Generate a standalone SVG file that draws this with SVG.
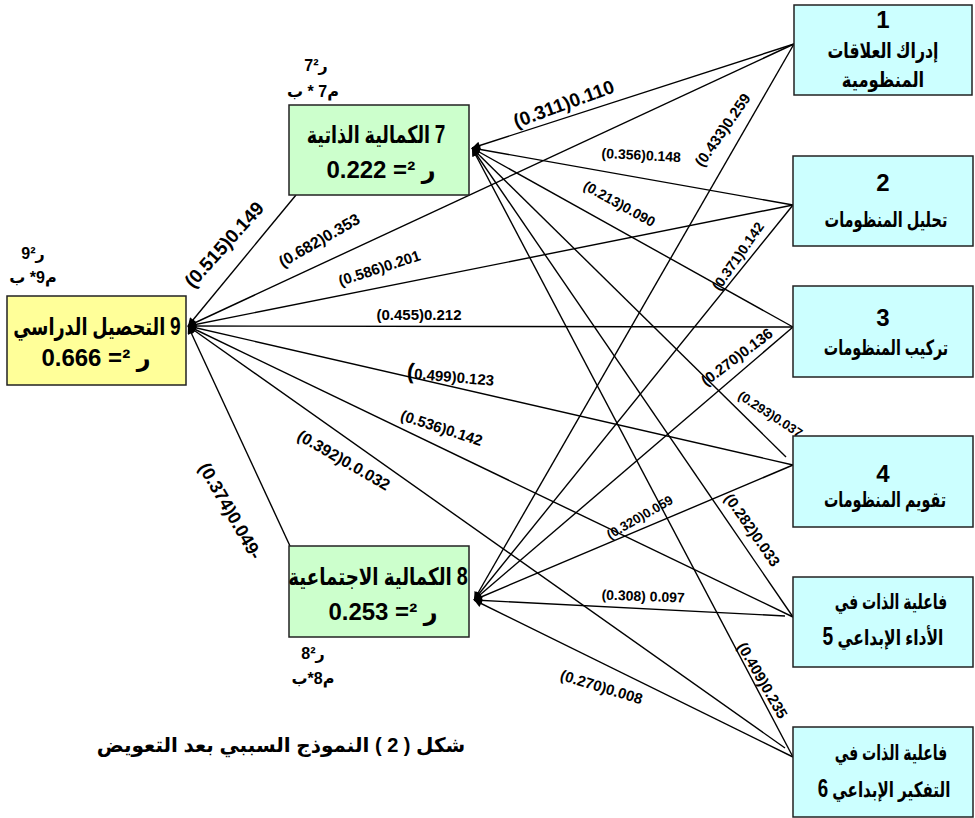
<svg xmlns="http://www.w3.org/2000/svg" width="975" height="818" viewBox="0 0 975 818">
<style>
text{font-family:"Liberation Sans","DejaVu Sans",sans-serif;font-weight:bold;fill:#000}
.ar{direction:rtl;text-anchor:middle}
.box{stroke:#222;stroke-width:1.5}
.g{fill:#ccffcc}.y{fill:#ffff99}.c{fill:#ccffff}
.lbl{text-anchor:middle;font-size:15px}
.big{font-size:24px}
.mid{font-size:21px}
.hd{font-size:24px}
.sm{font-size:16px}
.dg{font-size:26px}
line{stroke:#000;stroke-width:1.4;marker-end:url(#ah)}
</style>
<defs>
<marker id="ah" viewBox="0 0 10 10" refX="10" refY="5" markerWidth="11" markerHeight="8" markerUnits="userSpaceOnUse" orient="auto"><path d="M0,0 L10,5 L0,10 z" fill="#000"/></marker>
</defs>
<rect width="975" height="818" fill="#fff"/>
<g id="connectors">
<line x1="296" y1="195" x2="188" y2="326"/>
<line x1="794" y1="44" x2="188" y2="326"/>
<line x1="793" y1="205" x2="188" y2="326"/>
<line x1="793" y1="327" x2="188" y2="326"/>
<line x1="793" y1="465" x2="188" y2="326"/>
<line x1="793" y1="617" x2="188" y2="326"/>
<line x1="785" y1="748" x2="188" y2="326"/>
<line x1="290" y1="546" x2="188" y2="326"/>
<line x1="794" y1="44" x2="472" y2="148"/>
<line x1="793" y1="205" x2="472" y2="148"/>
<line x1="793" y1="327" x2="472" y2="148"/>
<line x1="786" y1="457" x2="472" y2="148"/>
<line x1="793" y1="617" x2="472" y2="148"/>
<line x1="793" y1="757" x2="472" y2="148"/>
<line x1="794" y1="44" x2="474" y2="600"/>
<line x1="793" y1="205" x2="474" y2="600"/>
<line x1="793" y1="327" x2="474" y2="600"/>
<line x1="793" y1="465" x2="474" y2="600"/>
<line x1="785" y1="616" x2="474" y2="600"/>
<line x1="793" y1="757" x2="474" y2="600"/>
<text class="lbl" style="font-size:19px" transform="translate(566,110) rotate(-20)">(0.311)0.110</text>
<text class="lbl" style="font-size:14px" transform="translate(641,160) rotate(3)">(0.356)0.148</text>
<text class="lbl" style="font-size:14px" transform="translate(617,208) rotate(29)">(0.213)0.090</text>
<text class="lbl" transform="translate(727,133) rotate(-55)">(0.433)0.259</text>
<text class="lbl" style="font-size:14px" transform="translate(742,259) rotate(-55)">(0.371)0.142</text>
<text class="lbl" style="font-size:19px" transform="translate(229,249) rotate(-48)">(0.515)0.149</text>
<text class="lbl" style="font-size:16px" transform="translate(322,245) rotate(-30)">(0.682)0.353</text>
<text class="lbl" style="font-size:15px" transform="translate(381,273) rotate(-18)">(0.586)0.201</text>
<text class="lbl" style="font-size:15px" transform="translate(419,320)">(0.455)0.212</text>
<text class="lbl" style="font-size:15px" transform="translate(450,382) rotate(5)"><tspan style="font-size:22px">(</tspan>0.499)0.123</text>
<text class="lbl" transform="translate(440,433) rotate(18)">(0.536)0.142</text>
<text class="lbl" style="font-size:16px" transform="translate(341,465) rotate(30)">(0.392)0.0.032</text>
<text class="lbl" style="font-size:18px" transform="translate(225,514) rotate(60)">(0.374)0.049-</text>
<text class="lbl" transform="translate(740,361) rotate(-37)">(0.270)0.136</text>
<text class="lbl" style="font-size:13px" transform="translate(768,418) rotate(33)">(0.293)0.037</text>
<text class="lbl" style="font-size:13px" transform="translate(642,521) rotate(-30)">(0.320)0.059</text>
<text class="lbl" transform="translate(748,533) rotate(55)">(0.282)0.033</text>
<text class="lbl" style="font-size:14px" transform="translate(643,601) rotate(2)">(0.308) 0.097</text>
<text class="lbl" transform="translate(600,692) rotate(17)">(0.270)0.008</text>
<text class="lbl" transform="translate(758,683) rotate(60)">(0.409)0.235</text>
</g>
<g id="n7">
<rect class="box g" x="289" y="105" width="180" height="90"/>
<text class="ar hd" transform="translate(376,143) scale(0.73,1)"><tspan class="dg">7</tspan> الكمالية الذاتية</text>
<text class="ar big" x="381" y="178">ر ²= 0.222</text>
<text class="ar sm" x="316" y="71">ر7²</text>
<text class="ar sm" x="313" y="97">م7 * ب</text>
</g>
<g id="n9">
<rect class="box y" x="7" y="296" width="179" height="89"/>
<text class="ar hd" transform="translate(97,335) scale(0.735,1)"><tspan class="dg">9</tspan> التحصيل الدراسي</text>
<text class="ar big" x="96" y="366">ر ²= 0.666</text>
<text class="ar sm" x="33" y="259">ر9²</text>
<text class="ar sm" x="33" y="283">م9* ب</text>
</g>
<g id="n8">
<rect class="box g" x="289" y="546" width="180" height="91"/>
<text class="ar hd" transform="translate(378,585) scale(0.76,1)"><tspan class="dg">8</tspan> الكمالية الاجتماعية</text>
<text class="ar big" x="383" y="620">ر ²= 0.253</text>
<text class="ar sm" x="313" y="659">ر8²</text>
<text class="ar sm" x="313" y="684">م8*ب</text>
</g>
<g id="n1">
<rect class="box c" x="794" y="5" width="178" height="90"/>
<text class="ar big" x="883" y="28">1</text>
<text class="ar mid" transform="translate(883,58) scale(0.75,1)">إدراك العلاقات</text>
<text class="ar mid" transform="translate(883,87) scale(0.78,1)">المنظومية</text>
</g>
<g id="n2">
<rect class="box c" x="793" y="156" width="180" height="90"/>
<text class="ar big" x="883" y="191">2</text>
<text class="ar mid" transform="translate(886,227) scale(0.69,1)">تحليل المنظومات</text>
</g>
<g id="n3">
<rect class="box c" x="793" y="286" width="180" height="91"/>
<text class="ar big" x="883" y="326">3</text>
<text class="ar mid" transform="translate(886,355) scale(0.68,1)">تركيب المنظومات</text>
</g>
<g id="n4">
<rect class="box c" x="793" y="436" width="180" height="91"/>
<text class="ar big" x="883" y="482">4</text>
<text class="ar mid" transform="translate(885,507) scale(0.68,1)">تقويم المنظومات</text>
</g>
<g id="n5">
<rect class="box c" x="793" y="577" width="180" height="90"/>
<text class="ar mid" transform="translate(891,609) scale(0.67,1)">فاعلية الذات في</text>
<text class="ar mid" transform="translate(883,645) scale(0.74,1)">الأداء الإبداعي  <tspan class="dg">5</tspan></text>
</g>
<g id="n6">
<rect class="box c" x="793" y="727" width="180" height="90"/>
<text class="ar mid" transform="translate(891,760) scale(0.67,1)">فاعلية الذات في</text>
<text class="ar mid" transform="translate(884,797) scale(0.72,1)">التفكير الإبداعي <tspan class="dg">6</tspan></text>
</g>
<g id="caption">
<text class="ar" style="font-size:20px" x="281" y="752">شكل ( 2 )  النموذج  السببي بعد التعويض</text>
</g>
</svg>
